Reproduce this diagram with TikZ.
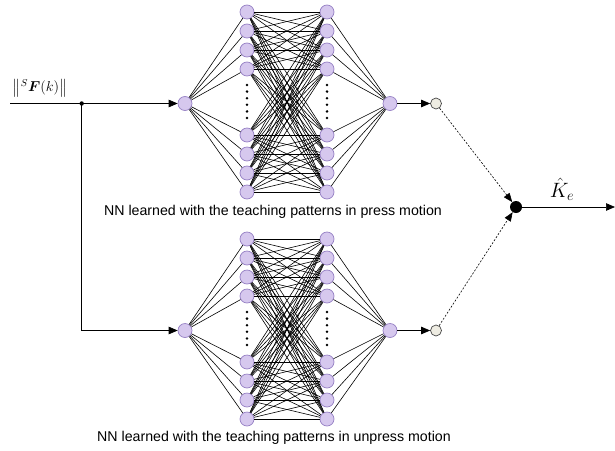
\documentclass[tikz,border=0pt]{standalone}
\usepackage{fontspec}
\setmainfont{Liberation Sans}
\usepackage{amsmath,bm}
\usetikzlibrary{arrows.meta}
\definecolor{pfill}{RGB}{214,200,238}
\definecolor{pdraw}{RGB}{150,128,196}
\definecolor{bfill}{RGB}{238,236,226}
\definecolor{bdraw}{RGB}{70,70,70}
\tikzset{
  pnode/.style={circle,fill=pfill,draw=pdraw,line width=0.7pt,minimum size=14pt,inner sep=0pt},
  bnode/.style={circle,fill=bfill,draw=bdraw,line width=0.7pt,minimum size=11pt,inner sep=0pt},
  jnode/.style={circle,fill=black,minimum size=12pt,inner sep=0pt},
  wire/.style={line width=0.6pt,black},
  arr/.style={line width=0.7pt,-{Triangle[length=9pt,width=7.5pt]}},
  dasharr/.style={line width=0.6pt,dash pattern=on 2pt off 1.6pt,-{Triangle[length=9pt,width=7pt]}},
  capt/.style={font=\fontsize{14.2}{16}\selectfont,inner sep=0pt},
}
\begin{document}
\begin{tikzpicture}[x=1pt,y=-1pt]
\useasboundingbox (0,0) rectangle (615,450);
\foreach \p/\o in {t/0,b/227} {
  \node[pnode] (\p in) at (185,\o+103.5) {};
  \foreach \i/\yy in {1/12,2/31,3/50,4/69,5/135,6/154,7/173,8/192} {
    \node[pnode] (\p L\i) at (247,\o+\yy) {};
    \node[pnode] (\p R\i) at (327,\o+\yy) {};
  }
  \node[pnode] (\p out) at (390,\o+103.5) {};
  \node[bnode] (\p b) at (436,\o+103.5) {};
  \foreach \i in {1,...,8} {
    \draw[wire] (\p in) -- (\p L\i);
    \draw[wire] (\p R\i) -- (\p out);
    \foreach \j in {1,...,8} {
      \draw[wire] (\p L\i) -- (\p R\j);
    }
  }
  \foreach \d in {0,...,5} {
    \fill (247,\o+85+\d*6.6) circle (1.4);
    \fill (327,\o+85+\d*6.6) circle (1.4);
  }
  \draw[arr] (\p out) -- (\p b);
}
\coordinate (start) at (10,103.5);
\coordinate (br) at (81.7,103.5);
\coordinate (corner) at (81.7,330.5);
\draw[wire] (start) -- (br);
\draw[arr] (br) -- (tin);
\draw[wire] (br) -- (corner);
\draw[arr] (corner) -- (bin);
\fill (br) circle (2.2);
\node (lab) at (40,88) {\fontsize{14}{16}\selectfont $\left\|{}^{S}\bm{F}(k)\right\|$};
\node[jnode] (j) at (516,207) {};
\draw[dasharr] (tb) -- (j);
\draw[dasharr] (bb) -- (j);
\coordinate (end) at (615,207);
\draw[arr] (j) -- (end);
\node (ke) at (562,189) {\fontsize{20}{24}\selectfont $\hat{K}_e$};
\node[capt] (c1) at (273,212) {NN learned with the teaching patterns in press motion};
\node[capt] (c2) at (274,438) {NN learned with the teaching patterns in unpress motion};
\end{tikzpicture}
\end{document}
